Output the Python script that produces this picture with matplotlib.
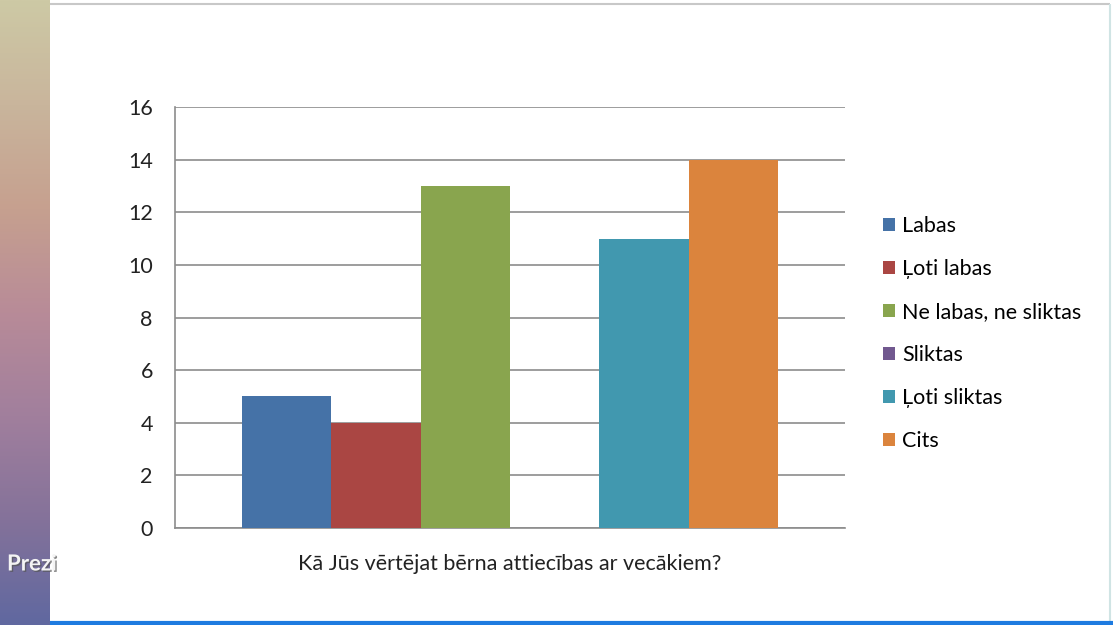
import numpy as np
import matplotlib.pyplot as plt
import matplotlib.patheffects as pe
from matplotlib.colors import LinearSegmentedColormap
from matplotlib.patches import Rectangle

# data
question = "Kā Jūs vērtējat bērna attiecības ar vecākiem?"
answers = ["Labas", "Ļoti labas", "Ne labas, ne sliktas", "Sliktas", "Ļoti sliktas", "Cits"]
counts = [5, 4, 13, 0, 11, 14]
colors = ["#4572A7", "#AA4643", "#89A54E", "#71588F", "#4198AF", "#DB843D"]
y_ticks = [0, 2, 4, 6, 8, 10, 12, 14, 16]

plt.rcParams["font.family"] = ["Lato", "DejaVu Sans"]

W, H = 1113, 625
fig = plt.figure(figsize=(W / 100, H / 100), dpi=100)

# left background strip (Prezi slide background)
strip = fig.add_axes([0, 0, 50 / W, 1])
grad = np.linspace(0, 1, 256).reshape(-1, 1)
cmap = LinearSegmentedColormap.from_list(
    "bg", ["#cdc9a5", "#c9b59c", "#c6a08f", "#b88b98", "#a17f9d", "#84729a", "#6068a0"])
strip.imshow(grad, aspect="auto", cmap=cmap, extent=[0, 1, 0, 1])
strip.set_axis_off()

# frame lines of the slide
fig.add_artist(Rectangle((50 / W, 1 - 4 / H), 1 - 53 / W, 0, transform=fig.transFigure,
                         edgecolor="#c8c8c8", lw=1.5, fill=False))
fig.add_artist(Rectangle((1 - 3 / W, 0), 0, 1 - 4 / H, transform=fig.transFigure,
                         edgecolor="#d0e4e4", lw=1.5, fill=False))
fig.add_artist(Rectangle((50 / W, 2 / H), 1 - 50 / W, 0, transform=fig.transFigure,
                         edgecolor="#1e7be0", lw=3, fill=False))

fig.text(7 / W, 1 - 564 / H, "Prezi", color="#f4f4f4", fontsize=16, fontweight="bold",
         va="center", ha="left",
         path_effects=[pe.withSimplePatchShadow(offset=(1, -1), shadow_rgbFace="#555555", alpha=0.7)])

# chart
ax = fig.add_axes([175 / W, 1 - 528 / H, 670 / W, 421 / H])
n = len(answers)
width = 0.8 / n
for i, (name, val, col) in enumerate(zip(answers, counts, colors)):
    ax.bar(-0.4 + width * (i + 0.5), val, width=width, color=col, label=name, zorder=3)

ax.set_xlim(-0.5, 0.5)
ax.set_ylim(0, 16)
ax.set_yticks(y_ticks)
ax.set_xticks([0])
ax.set_xticklabels([question])
ax.tick_params(axis="x", length=0, pad=19, labelsize=15.5, colors="#222222")
ax.tick_params(axis="y", length=0, pad=16, labelsize=15.5, colors="#222222")
ax.grid(axis="y", color="#8c8c8c", lw=1.2, zorder=0)
for side in ["top", "right"]:
    ax.spines[side].set_visible(False)
for side in ["left", "bottom"]:
    ax.spines[side].set_color("#8c8c8c")
    ax.spines[side].set_linewidth(1.2)

fig.legend(loc="center left", bbox_to_anchor=(883 / W, 1 - 333.5 / H),
           bbox_transform=fig.transFigure, frameon=False, fontsize=15.5,
           handlelength=0.55, handleheight=0.55, handletextpad=0.35,
           labelspacing=1.07, borderaxespad=0, borderpad=0)

fig.savefig("out.png", dpi=100)
